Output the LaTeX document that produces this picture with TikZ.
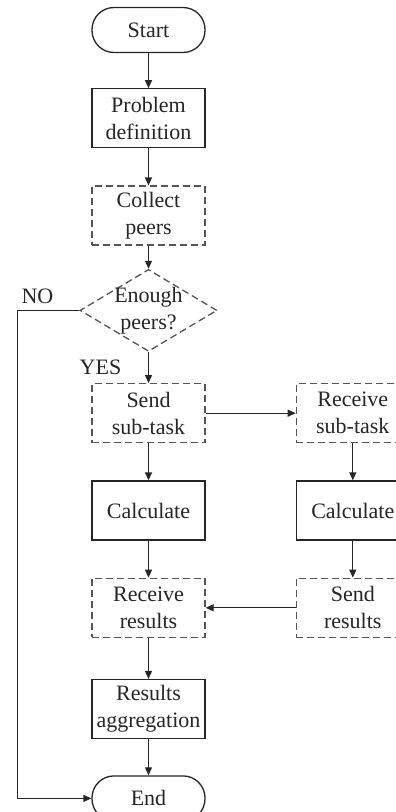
\documentclass[tikz,border=0pt]{standalone}
\usepackage{fontspec}
\setmainfont{Liberation Serif}
\usetikzlibrary{arrows.meta,positioning,shapes.geometric}
\definecolor{ink}{HTML}{262626}
\definecolor{dashink}{HTML}{555555}

\begin{document}
\begin{tikzpicture}[
  x=1pt,y=1pt,
  node distance=37pt and 90pt,
  base/.style={align=center,text=ink,font=\fontsize{22}{27}\selectfont,minimum width=113pt,inner sep=0pt},
  box/.style={base,draw=ink,line width=1.3pt,minimum height=59pt},
  dbox/.style={base,draw=dashink,line width=1.3pt,dash pattern=on 7pt off 4pt,minimum height=59pt},
  term/.style={base,draw=ink,line width=1.3pt,rounded corners=22pt,minimum height=45pt},
  dec/.style={base,diamond,draw=dashink,line width=1.3pt,dash pattern=on 7pt off 4pt,minimum width=137pt,minimum height=82pt,inner sep=-14pt},
  lbl/.style={text=ink,font=\fontsize{22}{27}\selectfont,inner sep=0pt},
  arrow/.style={-{Triangle[length=8pt,width=7pt]},line width=1.3pt,draw=ink}
]
\clip (0,0) rectangle (396,-812);
\node[term] (start) at (148.5,-30) {Start};
\node[box,below=35pt of start] (problem) {Problem\\definition};
\node[dbox,below=of problem] (collect) {Collect\\peers};
\node[dec,below=23pt of collect] (enough) {Enough\\peers?};
\node[dbox,below=31pt of enough] (send) {Send\\sub-task};
\node[dbox,right=of send] (recvtask) {Receive\\sub-task};
\node[box,below=of send] (calc) {Calculate};
\node[box,below=of recvtask] (calcpeer) {Calculate};
\node[dbox,below=of calc] (recvres) {Receive\\results};
\node[dbox,below=of calcpeer] (sendres) {Send\\results};
\node[box,below=41pt of recvres] (aggr) {Results\\aggregation};
\node[term,below=36pt of aggr] (end) {End};
% decision labels
\coordinate[left=62pt of enough.west] (nocorner);
\node[lbl,above right=6pt and 4pt of nocorner] (nolbl) {NO};
\node[lbl,below left=8pt and 27pt of enough.south] (yeslbl) {YES};
% main flow
\draw[arrow] (start) -- (problem);
\draw[arrow] (problem) -- (collect);
\draw[arrow] (collect) -- (enough);
\draw[arrow] (enough) -- (send);
\draw[arrow] (send) -- (calc);
\draw[arrow] (calc) -- (recvres);
\draw[arrow] (recvres) -- (aggr);
\draw[arrow] (aggr) -- (end);
\draw[arrow] (enough.west) -- (nocorner) |- (end.west);
% peer side
\draw[arrow] (send) -- (recvtask);
\draw[arrow] (recvtask) -- (calcpeer);
\draw[arrow] (calcpeer) -- (sendres);
\draw[arrow] (sendres) -- (recvres);
\end{tikzpicture}
\end{document}
